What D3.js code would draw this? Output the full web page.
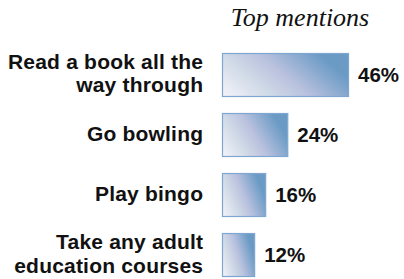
<!DOCTYPE html>
<html>
<head>
<meta charset="utf-8">
<script src="https://cdn.jsdelivr.net/npm/d3@7"></script>
<style>
  body { margin: 0; background: #fff; }
  svg { display: block; }
</style>
</head>
<body>
<div id="chart"></div>
<script>
// chart data
const categories = [
  ["Read a book all the", "way through"],
  ["Go bowling"],
  ["Play bingo"],
  ["Take any adult", "education courses"]
];
const values = [46, 24, 16, 12];
const title = "Top mentions";

const width = 404, height = 279;

const svg = d3.select("#chart").append("svg")
  .attr("width", width)
  .attr("height", height);

const defs = svg.append("defs");
const grad = defs.append("linearGradient")
  .attr("id", "barfill")
  .attr("x1", "0").attr("y1", "1")
  .attr("x2", "1").attr("y2", "0.6");
grad.append("stop").attr("offset", "0%").attr("stop-color", "#f4f4fa");
grad.append("stop").attr("offset", "35%").attr("stop-color", "#cfd9e6");
grad.append("stop").attr("offset", "60%").attr("stop-color", "#b9c1de");
grad.append("stop").attr("offset", "100%").attr("stop-color", "#6b9bc5");

const x = d3.scaleLinear().domain([0, 46]).range([0, 127]);
const y = d3.scaleBand()
  .domain(d3.range(values.length))
  .range([53, 277])
  .paddingInner(0.267)
  .paddingOuter(0);

const barX = 222;

svg.append("text")
  .attr("x", 300)
  .attr("y", 26)
  .attr("text-anchor", "middle")
  .style("font-family", "'Liberation Serif', 'Times New Roman', serif")
  .style("font-style", "italic")
  .style("font-size", "26px")
  .style("fill", "#111")
  .text(title);

const rows = svg.selectAll("g.row")
  .data(values)
  .enter().append("g")
  .attr("class", "row");

rows.append("rect")
  .attr("x", barX + 0.5)
  .attr("y", (d, i) => y(i) + 0.5)
  .attr("width", d => x(d) - 1)
  .attr("height", y.bandwidth() - 1)
  .attr("fill", "url(#barfill)")
  .attr("stroke", "#7ea6d0")
  .attr("stroke-width", 1.2);

rows.append("text")
  .attr("x", d => barX + x(d) + 9)
  .attr("y", (d, i) => y(i) + y.bandwidth() / 2 + 7)
  .style("font-family", "'Liberation Sans', Arial, sans-serif")
  .style("font-weight", "bold")
  .style("font-size", "20.5px")
  .style("fill", "#111")
  .text(d => d + "%");

const labels = rows.append("text")
  .attr("text-anchor", "end")
  .style("font-family", "'Liberation Sans', Arial, sans-serif")
  .style("font-weight", "bold")
  .style("font-size", "21px")
  .style("letter-spacing", "0.2px")
  .style("fill", "#111");

labels.each(function(d, i) {
  const lines = categories[i];
  const cy = y(i) + y.bandwidth() / 2;
  const first = lines.length > 1 ? cy - 6 : cy + 6;
  d3.select(this).selectAll("tspan")
    .data(lines)
    .enter().append("tspan")
    .attr("x", 203.2)
    .attr("y", (t, j) => first + j * 23.5)
    .text(t => t);
});
</script>
</body>
</html>
